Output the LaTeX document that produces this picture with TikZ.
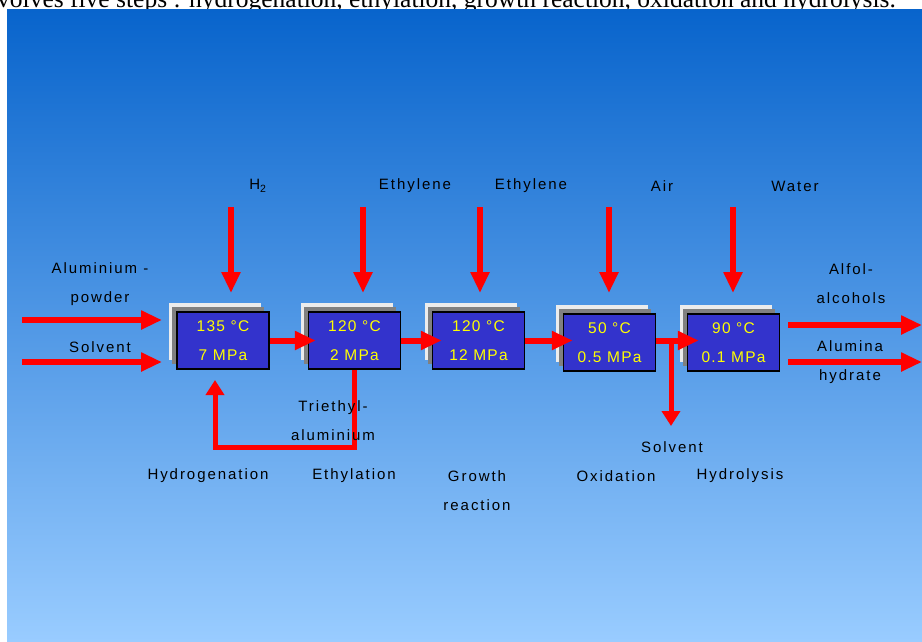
\documentclass[tikz,border=0pt]{standalone}
\usepackage{fontspec}
\setmainfont{Liberation Sans}
\newfontfamily\capfont{Liberation Serif}
\usetikzlibrary{arrows.meta}

\definecolor{panelTop}{RGB}{8,100,204}
\definecolor{panelBot}{RGB}{153,204,255}
\definecolor{boxBlue}{RGB}{51,51,204}
\definecolor{flowRed}{RGB}{255,0,0}
\definecolor{plateGray}{RGB}{128,128,128}
\definecolor{plateWhite}{RGB}{236,236,236}
\definecolor{valYellow}{RGB}{255,255,0}

\begin{document}
\begin{tikzpicture}[x=1pt,y=-1pt,
  lbl/.style={font=\fontsize{15}{29}\selectfont\addfontfeature{LetterSpace=13},
    inner sep=0pt, text=black, align=center},
  flow/.style={draw=flowRed, line width=6pt,
    -{Triangle[length=21pt,width=18pt]}},
  shortflow/.style={draw=flowRed, line width=5pt,
    -{Triangle[length=15pt,width=18pt]}},
  stagebox/.style={draw=black, line width=1.5pt, fill=boxBlue,
    minimum width=92pt, minimum height=57pt, inner sep=0pt,
    text=valYellow, align=center,
    font=\fontsize{15.5}{29}\selectfont\addfontfeature{LetterSpace=8}}
]
\useasboundingbox (0,0) rectangle (922,641);

% caption line running off the top edge
\node[anchor=base west, inner sep=0pt,
  font=\capfont\fontsize{25.5}{25.5}\selectfont] (caption) at (-3,7)
  {volves five steps : hydrogenation, ethylation, growth reaction, oxidation and hydrolysis.};

% gradient panel
\shade[top color=panelTop, bottom color=panelBot] (7,9.5) rectangle (922,641);

% reactor stages with stacked plates behind them
\foreach \n/\x/\y/\t/\p in {
  b1/223/340.5/135 °C/7 MPa,
  b2/354.5/340.5/120 °C/2 MPa,
  b3/478.5/340.5/120 °C/12 MPa,
  b4/609.5/342.5/50 °C/0.5 MPa,
  b5/733.5/342.5/90 °C/0.1 MPa}{
  \fill[plateWhite] (\x-54,\y-37.5) rectangle ++(92,57);
  \fill[plateGray] (\x-51,\y-33.5) rectangle ++(92,57);
  \node[stagebox] (\n) at (\x,\y) {\t\\\p};
}

% feed arrows from the top
\foreach \c/\x in {h2/231, eta/363, etb/480, air/609, wat/733}{
  \coordinate (\c-from) at (\x,207);
  \coordinate (\c-to) at (\x,293);
  \draw[flow] (\c-from) -- (\c-to);
}
\node[lbl] (lh2) at (258,186) {H\textsubscript{2}};
\node[lbl] (leta) at (415,186) {Ethylene};
\node[lbl] (letb) at (531,186) {Ethylene};
\node[lbl] (lair) at (662,186) {Air};
\node[lbl] (lwat) at (795,186) {Water};

% inputs on the left
\coordinate (al-from) at (22,320);
\coordinate (al-to) at (162,320);
\coordinate (so-from) at (22,362);
\coordinate (so-to) at (162,362);
\draw[flow] (al-from) -- (al-to);
\draw[flow] (so-from) -- (so-to);
\node[lbl] (lal) at (100,284.5) {Aluminium -\\powder};
\node[lbl] (lso) at (100,347) {Solvent};

% transfers between stages
\draw[flow] (b1.east) -- ([xshift=8pt]b2.west);
\draw[flow] (b2.east) -- ([xshift=10pt]b3.west);
\draw[flow] (b3.east) -- ([xshift=10pt]b4.west |- b3.east);
\draw[flow] (b4.east |- b3.east) -- ([xshift=12pt]b5.west |- b3.east);

% solvent drawn off after oxidation
\coordinate (split) at (671,340.5);
\coordinate (solv-to) at (671,426);
\draw[shortflow] (split) -- (solv-to);
\node[lbl] (lsolv) at (672,447) {Solvent};

% triethylaluminium recycle loop
\coordinate (loop-corner) at (215,447);
\coordinate (loop-to) at (215,380);
\draw[shortflow] (b2.south) |- (loop-corner) -- (loop-to);
\node[lbl] (ltea) at (333,421) {Triethyl-\\aluminium};

% products on the right
\coordinate (alf-from) at (788,325);
\coordinate (alf-to) at (922,325);
\coordinate (alu-from) at (788,362);
\coordinate (alu-to) at (922,362);
\draw[flow] (alf-from) -- (alf-to);
\draw[flow] (alu-from) -- (alu-to);
\node[lbl] (lalf) at (851,284) {Alfol-\\alcohols};
\node[lbl] (lalu) at (850,362.5) {Alumina\\hydrate};

% stage names
\node[lbl] (s1) at (208,476) {Hydrogenation};
\node[lbl] (s2) at (354,476) {Ethylation};
\node[lbl] (s3) at (477,491) {Growth\\reaction};
\node[lbl] (s4) at (616,476) {Oxidation};
\node[lbl] (s5) at (740,476) {Hydrolysis};
\end{tikzpicture}
\end{document}
